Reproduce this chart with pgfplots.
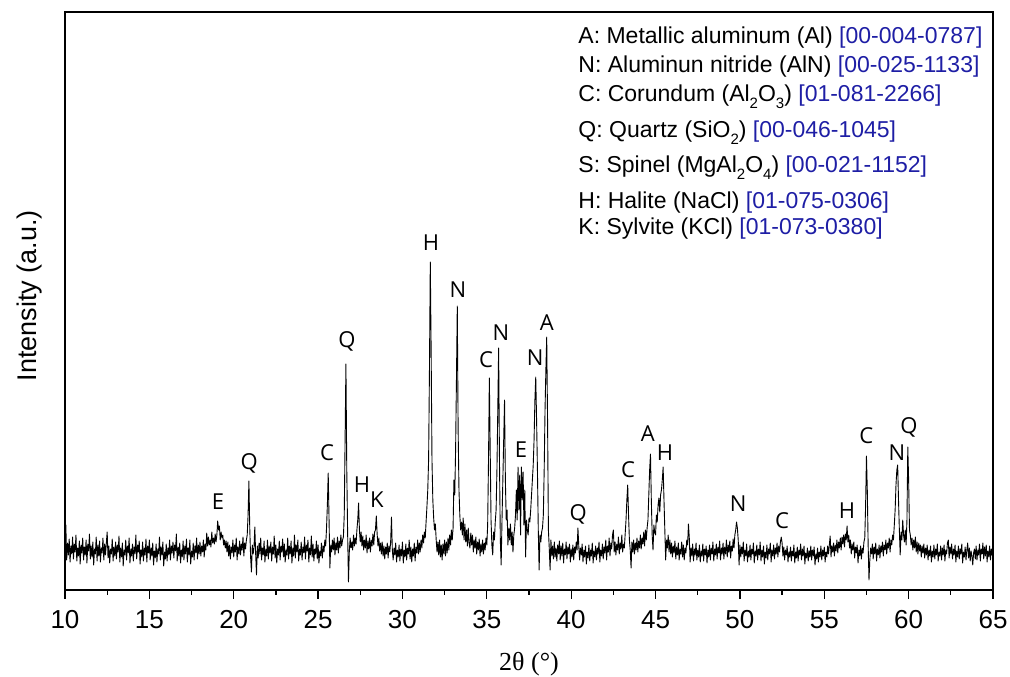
\documentclass[border=0pt]{standalone}
\usepackage{pgfplots}
\pgfplotsset{compat=1.18}
\usepackage{fontspec}
\setmainfont{Liberation Sans}
\newfontfamily\peakfont{Open Sans}
\newfontfamily\seriffont{Liberation Serif}
\definecolor{refblue}{RGB}{30,30,165}
\newcommand{\sub}[1]{\raisebox{-6.5pt}{\fontsize{15}{15}\selectfont #1}}
\begin{document}
\begin{tikzpicture}
\useasboundingbox (-65pt,-87pt) rectangle (945pt,590pt);
\begin{axis}[
  at={(0,0)}, anchor=south west,
  width=928pt, height=578pt, scale only axis,
  xmin=10, xmax=65, ymin=0, ymax=578,
  xtick={10,15,...,65}, ytick=\empty,
  minor x tick num=1,
  tick align=outside, xtick pos=left,
  major tick length=9pt, minor tick length=5pt,
  axis line style={line width=1.2pt},
  tick style={line width=1.2pt, black},
  /pgf/number format/assume math mode=true,
  tick label style={font=\fontsize{26}{26}\selectfont},
  xticklabel style={yshift=-8pt},
  xlabel={\seriffont 2θ (°)},
  xlabel style={at={(axis description cs:0.5,-0.128)}, anchor=center, font=\fontsize{26}{26}\selectfont},
  ylabel={Intensity (a.u.)},
  ylabel style={at={(axis description cs:-0.038,0.509)}, anchor=center, font=\fontsize{27}{27}\selectfont},
  clip=true,
]
\addplot[black, line width=0.9pt, line join=round, mark=none] table[row sep=\\] {
x y\\
10.0 40\\ 10.05 65\\ 10.1 30\\ 10.15 47\\ 10.2 35\\ 10.25 51\\ 10.3 28\\ 10.35 44\\ 10.4 36\\ 10.45 53\\ 10.5 31\\ 10.55 46\\ 10.6 38\\ 10.65 55\\ 10.7 29\\ 10.75 42\\ 10.8 34\\ 10.85 49\\ 10.9 26\\ 10.95 45\\
11.0 37\\ 11.05 52\\ 11.1 30\\ 11.15 43\\ 11.2 35\\ 11.25 50\\ 11.3 27\\ 11.35 46\\ 11.4 39\\ 11.45 56\\ 11.5 31\\ 11.55 44\\ 11.6 33\\ 11.65 48\\ 11.7 25\\ 11.75 41\\ 11.8 36\\ 11.85 53\\ 11.9 29\\ 11.95 45\\
12.0 34\\ 12.05 49\\ 12.1 28\\ 12.15 42\\ 12.2 37\\ 12.25 52\\ 12.3 30\\ 12.35 46\\ 12.4 35\\ 12.45 47\\ 12.5 58\\ 12.55 32\\ 12.6 44\\ 12.65 27\\ 12.7 41\\ 12.75 36\\ 12.8 51\\ 12.85 29\\ 12.9 43\\ 12.95 34\\
13.0 48\\ 13.05 31\\ 13.1 45\\ 13.15 38\\ 13.2 54\\ 13.25 28\\ 13.3 42\\ 13.35 33\\ 13.4 47\\ 13.45 24\\ 13.5 40\\ 13.55 35\\ 13.6 50\\ 13.65 30\\ 13.7 44\\ 13.75 37\\ 13.8 52\\ 13.85 27\\ 13.9 41\\ 13.95 34\\
14.0 46\\ 14.05 29\\ 14.1 43\\ 14.15 36\\ 14.2 55\\ 14.25 31\\ 14.3 45\\ 14.35 38\\ 14.4 49\\ 14.45 26\\ 14.5 40\\ 14.55 33\\ 14.6 48\\ 14.65 29\\ 14.7 42\\ 14.75 35\\ 14.8 51\\ 14.85 28\\ 14.9 44\\ 14.95 37\\
15.0 50\\ 15.05 30\\ 15.1 42\\ 15.15 34\\ 15.2 47\\ 15.25 25\\ 15.3 39\\ 15.35 32\\ 15.4 46\\ 15.45 28\\ 15.5 41\\ 15.55 36\\ 15.6 53\\ 15.65 30\\ 15.7 43\\ 15.75 35\\ 15.8 48\\ 15.85 24\\ 15.9 38\\ 15.95 31\\
16.0 46\\ 16.05 29\\ 16.1 42\\ 16.15 35\\ 16.2 50\\ 16.25 30\\ 16.3 44\\ 16.35 37\\ 16.4 48\\ 16.45 32\\ 16.5 45\\ 16.55 39\\ 16.6 56\\ 16.65 29\\ 16.7 43\\ 16.75 34\\ 16.8 47\\ 16.85 27\\ 16.9 40\\ 16.95 33\\
17.0 49\\ 17.05 30\\ 17.1 44\\ 17.15 36\\ 17.2 51\\ 17.25 28\\ 17.3 42\\ 17.35 35\\ 17.4 50\\ 17.45 26\\ 17.5 39\\ 17.55 33\\ 17.6 47\\ 17.65 30\\ 17.7 44\\ 17.75 37\\ 17.8 52\\ 17.85 31\\ 17.9 45\\ 17.95 36\\
18.0 48\\ 18.05 34\\ 18.1 44\\ 18.15 38\\ 18.2 50\\ 18.25 33\\ 18.3 46\\ 18.35 40\\ 18.4 57\\ 18.45 44\\ 18.5 53\\ 18.55 45\\ 18.6 50\\ 18.65 43\\ 18.7 58\\ 18.75 47\\ 18.8 52\\ 18.85 46\\ 18.9 56\\ 18.95 48\\
19.0 55\\ 19.05 69\\ 19.1 60\\ 19.15 64\\ 19.2 50\\ 19.25 58\\ 19.3 52\\ 19.35 55\\ 19.4 45\\ 19.45 50\\ 19.5 42\\ 19.55 49\\
19.6 38\\ 19.65 48\\ 19.7 34\\ 19.75 45\\ 19.8 31\\ 19.85 43\\ 19.9 37\\ 19.95 50\\
20.0 33\\ 20.05 45\\ 20.1 38\\ 20.15 52\\ 20.2 30\\ 20.25 43\\ 20.3 36\\ 20.35 49\\ 20.4 35\\ 20.45 46\\ 20.5 40\\ 20.55 53\\ 20.6 34\\ 20.65 47\\ 20.7 41\\ 20.75 50\\ 20.8 55\\ 20.85 75\\ 20.9 109\\ 20.95 62\\
21.0 33\\ 21.05 18\\ 21.1 45\\ 21.15 36\\ 21.2 42\\ 21.25 63\\ 21.3 36\\ 21.35 15\\ 21.4 44\\ 21.45 32\\ 21.5 47\\ 21.55 36\\ 21.6 52\\ 21.65 30\\ 21.7 42\\ 21.75 35\\ 21.8 49\\ 21.85 28\\ 21.9 41\\ 21.95 34\\
22.0 50\\ 22.05 31\\ 22.1 44\\ 22.15 37\\ 22.2 48\\ 22.25 29\\ 22.3 43\\ 22.35 36\\ 22.4 54\\ 22.45 32\\ 22.5 45\\ 22.55 27\\ 22.6 41\\ 22.65 35\\ 22.7 49\\ 22.75 30\\ 22.8 44\\ 22.85 38\\ 22.9 51\\ 22.95 33\\
23.0 46\\ 23.05 28\\ 23.1 40\\ 23.15 35\\ 23.2 52\\ 23.25 31\\ 23.3 44\\ 23.35 36\\ 23.4 49\\ 23.45 27\\ 23.5 42\\ 23.55 34\\ 23.6 55\\ 23.65 32\\ 23.7 45\\ 23.75 38\\ 23.8 50\\ 23.85 29\\ 23.9 41\\ 23.95 35\\
24.0 48\\ 24.05 30\\ 24.1 43\\ 24.15 37\\ 24.2 53\\ 24.25 31\\ 24.3 45\\ 24.35 39\\ 24.4 50\\ 24.45 28\\ 24.5 42\\ 24.55 35\\ 24.6 54\\ 24.65 33\\ 24.7 46\\ 24.75 29\\ 24.8 41\\ 24.85 36\\ 24.9 49\\ 24.95 31\\
25.0 45\\ 25.05 27\\ 25.1 39\\ 25.15 34\\ 25.2 47\\ 25.25 32\\ 25.3 44\\ 25.35 38\\ 25.4 50\\ 25.45 44\\ 25.5 62\\ 25.55 85\\ 25.6 117\\ 25.65 70\\ 25.7 22\\ 25.75 45\\ 25.8 38\\ 25.85 50\\ 25.9 40\\ 25.95 52\\
26.0 35\\ 26.05 47\\ 26.1 40\\ 26.15 53\\ 26.2 37\\ 26.25 49\\ 26.3 42\\ 26.35 55\\ 26.4 44\\ 26.45 50\\ 26.5 53\\ 26.55 75\\ 26.6 150\\ 26.65 226\\ 26.7 120\\ 26.75 58\\ 26.8 8\\ 26.85 38\\ 26.9 52\\ 26.95 42\\
27.0 48\\ 27.05 40\\ 27.1 55\\ 27.15 44\\ 27.2 52\\ 27.25 46\\ 27.3 60\\ 27.35 70\\ 27.4 87\\ 27.45 60\\ 27.5 48\\ 27.55 58\\ 27.6 44\\ 27.65 54\\ 27.7 40\\ 27.75 50\\ 27.8 42\\ 27.85 55\\ 27.9 37\\ 27.95 49\\
28.0 41\\ 28.05 52\\ 28.1 38\\ 28.15 50\\ 28.2 44\\ 28.25 56\\ 28.3 45\\ 28.35 58\\ 28.4 60\\ 28.45 74\\ 28.5 56\\ 28.55 44\\ 28.6 52\\ 28.65 39\\ 28.7 47\\ 28.75 36\\ 28.8 48\\ 28.85 34\\ 28.9 44\\ 28.95 31\\
29.0 43\\ 29.05 36\\ 29.1 47\\ 29.15 32\\ 29.2 44\\ 29.25 38\\ 29.3 48\\ 29.35 73\\ 29.4 40\\ 29.45 30\\ 29.5 42\\ 29.55 35\\ 29.6 47\\ 29.65 28\\ 29.7 40\\ 29.75 33\\ 29.8 45\\ 29.85 29\\ 29.9 41\\ 29.95 34\\
30.0 48\\ 30.05 27\\ 30.1 40\\ 30.15 33\\ 30.2 46\\ 30.25 30\\ 30.3 42\\ 30.35 36\\ 30.4 50\\ 30.45 31\\ 30.5 43\\ 30.55 28\\ 30.6 41\\ 30.65 34\\ 30.7 47\\ 30.75 29\\ 30.8 43\\ 30.85 37\\ 30.9 50\\ 30.95 36\\
31.0 47\\ 31.05 38\\ 31.1 50\\ 31.15 42\\ 31.2 55\\ 31.25 47\\ 31.3 58\\ 31.35 52\\ 31.4 68\\ 31.45 83\\ 31.5 100\\ 31.55 130\\ 31.6 220\\ 31.65 328\\ 31.7 240\\ 31.75 130\\ 31.8 90\\ 31.85 72\\ 31.9 60\\ 31.95 66\\
32.0 50\\ 32.05 38\\ 32.1 48\\ 32.15 35\\ 32.2 50\\ 32.25 33\\ 32.3 45\\ 32.35 30\\ 32.4 46\\ 32.45 36\\ 32.5 50\\ 32.55 34\\ 32.6 48\\ 32.65 37\\ 32.7 52\\ 32.75 40\\ 32.8 55\\ 32.85 45\\ 32.9 60\\ 32.95 50\\
33.0 62\\ 33.05 110\\ 33.1 95\\ 33.15 140\\ 33.2 210\\ 33.25 284\\ 33.3 160\\ 33.35 100\\ 33.4 75\\ 33.45 60\\ 33.5 68\\ 33.55 55\\ 33.6 72\\ 33.65 50\\ 33.7 66\\ 33.75 48\\ 33.8 60\\ 33.85 44\\ 33.9 62\\ 33.95 47\\
34.0 42\\ 34.05 57\\ 34.1 45\\ 34.15 55\\ 34.2 38\\ 34.25 50\\ 34.3 42\\ 34.35 53\\ 34.4 36\\ 34.45 48\\ 34.5 40\\ 34.55 51\\ 34.6 34\\ 34.65 46\\ 34.7 38\\ 34.75 50\\ 34.8 36\\ 34.85 47\\ 34.9 40\\ 34.95 52\\
35.0 45\\ 35.05 65\\ 35.1 130\\ 35.15 212\\ 35.2 140\\ 35.25 70\\ 35.3 45\\ 35.35 35\\ 35.4 58\\ 35.45 50\\ 35.5 68\\ 35.55 80\\ 35.6 120\\ 35.65 180\\ 35.7 242\\ 35.75 130\\ 35.8 50\\ 35.85 25\\ 35.9 70\\ 35.95 110\\
36.0 150\\ 36.05 190\\ 36.1 110\\ 36.15 70\\ 36.2 80\\ 36.25 45\\ 36.3 62\\ 36.35 50\\ 36.4 66\\ 36.45 45\\ 36.5 58\\ 36.55 38\\ 36.6 55\\ 36.65 62\\ 36.7 75\\ 36.75 100\\ 36.8 70\\ 36.85 123\\ 36.9 80\\ 36.95 115\\
37.0 55\\ 37.05 123\\ 37.1 90\\ 37.15 118\\ 37.2 65\\ 37.25 100\\ 37.3 33\\ 37.35 70\\ 37.4 60\\ 37.45 55\\ 37.5 72\\ 37.55 68\\ 37.6 80\\ 37.65 95\\ 37.7 110\\ 37.75 125\\ 37.8 150\\ 37.85 190\\ 37.9 213\\ 37.95 170\\
38.0 120\\ 38.05 60\\ 38.1 20\\ 38.15 55\\ 38.2 48\\ 38.25 58\\ 38.3 62\\ 38.35 75\\ 38.4 120\\ 38.45 180\\ 38.5 220\\ 38.55 253\\ 38.6 170\\ 38.65 60\\ 38.7 42\\ 38.75 20\\ 38.8 50\\ 38.85 34\\ 38.9 44\\ 38.95 31\\
39.0 48\\ 39.05 33\\ 39.1 42\\ 39.15 29\\ 39.2 45\\ 39.25 36\\ 39.3 49\\ 39.35 30\\ 39.4 44\\ 39.45 34\\ 39.5 47\\ 39.55 27\\ 39.6 41\\ 39.65 35\\ 39.7 48\\ 39.75 31\\ 39.8 43\\ 39.85 36\\ 39.9 46\\ 39.95 28\\
40.0 41\\ 40.05 33\\ 40.1 45\\ 40.15 30\\ 40.2 43\\ 40.25 37\\ 40.3 48\\ 40.35 40\\ 40.4 62\\ 40.45 44\\ 40.5 30\\ 40.55 42\\ 40.6 35\\ 40.65 46\\ 40.7 28\\ 40.75 40\\ 40.8 33\\ 40.85 44\\ 40.9 26\\ 40.95 38\\
41.0 32\\ 41.05 45\\ 41.1 29\\ 41.15 40\\ 41.2 34\\ 41.25 47\\ 41.3 27\\ 41.35 39\\ 41.4 33\\ 41.45 44\\ 41.5 30\\ 41.55 42\\ 41.6 36\\ 41.65 48\\ 41.7 28\\ 41.75 40\\ 41.8 34\\ 41.85 46\\ 41.9 31\\ 41.95 43\\
42.0 37\\ 42.05 50\\ 42.1 30\\ 42.15 44\\ 42.2 38\\ 42.25 52\\ 42.3 34\\ 42.35 47\\ 42.4 41\\ 42.45 55\\ 42.5 60\\ 42.55 38\\ 42.6 48\\ 42.65 35\\ 42.7 46\\ 42.75 40\\ 42.8 53\\ 42.85 36\\ 42.9 47\\ 42.95 41\\
43.0 55\\ 43.05 38\\ 43.1 46\\ 43.15 42\\ 43.2 56\\ 43.25 70\\ 43.3 90\\ 43.35 105\\ 43.4 75\\ 43.45 50\\ 43.5 40\\ 43.55 22\\ 43.6 48\\ 43.65 38\\ 43.7 50\\ 43.75 36\\ 43.8 47\\ 43.85 40\\ 43.9 52\\ 43.95 38\\
44.0 49\\ 44.05 42\\ 44.1 55\\ 44.15 41\\ 44.2 52\\ 44.25 46\\ 44.3 58\\ 44.35 44\\ 44.4 60\\ 44.45 50\\ 44.5 62\\ 44.55 70\\ 44.6 95\\ 44.65 120\\ 44.7 136\\ 44.75 90\\ 44.8 55\\ 44.85 40\\ 44.9 65\\ 44.95 58\\
45.0 55\\ 45.05 75\\ 45.1 68\\ 45.15 85\\ 45.2 92\\ 45.25 78\\ 45.3 95\\ 45.35 100\\ 45.4 110\\ 45.45 123\\ 45.5 90\\ 45.55 60\\ 45.6 30\\ 45.65 50\\ 45.7 42\\ 45.75 55\\ 45.8 38\\ 45.85 50\\ 45.9 36\\ 45.95 47\\
46.0 33\\ 46.05 44\\ 46.1 37\\ 46.15 49\\ 46.2 31\\ 46.25 43\\ 46.3 35\\ 46.35 47\\ 46.4 30\\ 46.45 41\\ 46.5 36\\ 46.55 48\\ 46.6 33\\ 46.65 45\\ 46.7 30\\ 46.75 42\\ 46.8 37\\ 46.85 50\\ 46.9 45\\ 46.95 66\\
47.0 52\\ 47.05 28\\ 47.1 42\\ 47.15 34\\ 47.2 46\\ 47.25 29\\ 47.3 41\\ 47.35 35\\ 47.4 47\\ 47.45 30\\ 47.5 40\\ 47.55 33\\ 47.6 45\\ 47.65 28\\ 47.7 39\\ 47.75 34\\ 47.8 46\\ 47.85 29\\ 47.9 41\\ 47.95 35\\
48.0 44\\ 48.05 27\\ 48.1 40\\ 48.15 33\\ 48.2 45\\ 48.25 30\\ 48.3 42\\ 48.35 36\\ 48.4 48\\ 48.45 29\\ 48.5 41\\ 48.55 35\\ 48.6 46\\ 48.65 31\\ 48.7 43\\ 48.75 37\\ 48.8 49\\ 48.85 30\\ 48.9 42\\ 48.95 36\\
49.0 47\\ 49.05 31\\ 49.1 43\\ 49.15 36\\ 49.2 50\\ 49.25 33\\ 49.3 45\\ 49.35 38\\ 49.4 49\\ 49.45 32\\ 49.5 44\\ 49.55 39\\ 49.6 51\\ 49.65 42\\ 49.7 55\\ 49.75 60\\ 49.8 68\\ 49.85 62\\ 49.9 50\\ 49.95 25\\
50.0 45\\ 50.05 33\\ 50.1 43\\ 50.15 36\\ 50.2 48\\ 50.25 29\\ 50.3 40\\ 50.35 34\\ 50.4 46\\ 50.45 28\\ 50.5 39\\ 50.55 33\\ 50.6 45\\ 50.65 30\\ 50.7 41\\ 50.75 36\\ 50.8 47\\ 50.85 27\\ 50.9 39\\ 50.95 34\\
51.0 45\\ 51.05 30\\ 51.1 41\\ 51.15 35\\ 51.2 48\\ 51.25 29\\ 51.3 40\\ 51.35 33\\ 51.4 44\\ 51.45 26\\ 51.5 38\\ 51.55 32\\ 51.6 45\\ 51.65 30\\ 51.7 41\\ 51.75 36\\ 51.8 47\\ 51.85 28\\ 51.9 40\\ 51.95 34\\
52.0 45\\ 52.05 31\\ 52.1 42\\ 52.15 36\\ 52.2 47\\ 52.25 33\\ 52.3 44\\ 52.35 38\\ 52.4 48\\ 52.45 53\\ 52.5 47\\ 52.55 34\\ 52.6 43\\ 52.65 30\\ 52.7 40\\ 52.75 35\\ 52.8 44\\ 52.85 28\\ 52.9 38\\ 52.95 33\\
53.0 43\\ 53.05 29\\ 53.1 39\\ 53.15 34\\ 53.2 45\\ 53.25 27\\ 53.3 38\\ 53.35 32\\ 53.4 43\\ 53.45 29\\ 53.5 40\\ 53.55 35\\ 53.6 46\\ 53.65 30\\ 53.7 41\\ 53.75 34\\ 53.8 44\\ 53.85 26\\ 53.9 37\\ 53.95 32\\
54.0 42\\ 54.05 29\\ 54.1 39\\ 54.15 33\\ 54.2 44\\ 54.25 30\\ 54.3 40\\ 54.35 34\\ 54.4 43\\ 54.45 25\\ 54.5 36\\ 54.55 31\\ 54.6 42\\ 54.65 28\\ 54.7 38\\ 54.75 33\\ 54.8 44\\ 54.85 30\\ 54.9 40\\ 54.95 34\\
55.0 43\\ 55.05 28\\ 55.1 38\\ 55.15 33\\ 55.2 44\\ 55.25 36\\ 55.3 45\\ 55.35 54\\ 55.4 33\\ 55.45 44\\ 55.5 38\\ 55.55 47\\ 55.6 34\\ 55.65 45\\ 55.7 39\\ 55.75 50\\ 55.8 37\\ 55.85 48\\ 55.9 42\\ 55.95 52\\
56.0 40\\ 56.05 53\\ 56.1 46\\ 56.15 55\\ 56.2 43\\ 56.25 56\\ 56.3 50\\ 56.35 64\\ 56.4 48\\ 56.45 55\\ 56.5 42\\ 56.55 50\\ 56.6 36\\ 56.65 46\\ 56.7 40\\ 56.75 48\\ 56.8 32\\ 56.85 43\\ 56.9 37\\ 56.95 45\\
57.0 27\\ 57.05 40\\ 57.1 34\\ 57.15 44\\ 57.2 31\\ 57.25 42\\ 57.3 37\\ 57.35 48\\ 57.4 52\\ 57.45 85\\ 57.5 134\\ 57.55 100\\ 57.6 45\\ 57.65 10\\ 57.7 30\\ 57.75 42\\ 57.8 36\\ 57.85 46\\ 57.9 31\\ 57.95 43\\
58.0 36\\ 58.05 47\\ 58.1 29\\ 58.15 41\\ 58.2 35\\ 58.25 45\\ 58.3 32\\ 58.35 44\\ 58.4 38\\ 58.45 48\\ 58.5 34\\ 58.55 45\\ 58.6 40\\ 58.65 50\\ 58.7 36\\ 58.75 47\\ 58.8 42\\ 58.85 52\\ 58.9 38\\ 58.95 50\\
59.0 45\\ 59.05 55\\ 59.1 50\\ 59.15 65\\ 59.2 80\\ 59.25 105\\ 59.3 120\\ 59.35 125\\ 59.4 90\\ 59.45 60\\ 59.5 35\\ 59.55 58\\ 59.6 50\\ 59.65 70\\ 59.7 55\\ 59.75 48\\ 59.8 60\\ 59.85 45\\ 59.9 70\\ 59.95 143\\
60.0 110\\ 60.05 60\\ 60.1 55\\ 60.15 45\\ 60.2 52\\ 60.25 40\\ 60.3 50\\ 60.35 42\\ 60.4 53\\ 60.45 38\\ 60.5 48\\ 60.55 36\\ 60.6 47\\ 60.65 39\\ 60.7 45\\ 60.75 33\\ 60.8 44\\ 60.85 37\\ 60.9 46\\ 60.95 32\\
61.0 42\\ 61.05 35\\ 61.1 45\\ 61.15 30\\ 61.2 40\\ 61.25 34\\ 61.3 44\\ 61.35 28\\ 61.4 39\\ 61.45 33\\ 61.5 45\\ 61.55 31\\ 61.6 41\\ 61.65 35\\ 61.7 46\\ 61.75 29\\ 61.8 38\\ 61.85 34\\ 61.9 44\\ 61.95 30\\
62.0 42\\ 62.05 35\\ 62.1 45\\ 62.15 29\\ 62.2 40\\ 62.25 36\\ 62.3 47\\ 62.35 50\\ 62.4 32\\ 62.45 43\\ 62.5 36\\ 62.55 46\\ 62.6 31\\ 62.65 41\\ 62.7 35\\ 62.75 45\\ 62.8 28\\ 62.85 39\\ 62.9 33\\ 62.95 44\\
63.0 31\\ 63.05 41\\ 63.1 36\\ 63.15 46\\ 63.2 27\\ 63.25 38\\ 63.3 33\\ 63.35 43\\ 63.4 30\\ 63.45 40\\ 63.5 47\\ 63.55 32\\ 63.6 42\\ 63.65 29\\ 63.7 39\\ 63.75 34\\ 63.8 25\\ 63.85 37\\ 63.9 41\\ 63.95 31\\
64.0 44\\ 64.05 30\\ 64.1 40\\ 64.15 35\\ 64.2 46\\ 64.25 29\\ 64.3 41\\ 64.35 36\\ 64.4 47\\ 64.45 31\\ 64.5 43\\ 64.55 34\\ 64.6 45\\ 64.65 28\\ 64.7 39\\ 64.75 33\\ 64.8 44\\ 64.85 30\\ 64.9 41\\ 64.95 35\\
65.0 40\\
};
% peak labels
\begin{scope}[every node/.style={font=\peakfont\fontsize{22}{22}\selectfont, inner sep=0pt}]
\node at (axis cs:19.07,88) {E};
\node at (axis cs:20.91,127) {Q};
\node at (axis cs:25.53,137) {C};
\node at (axis cs:26.71,249) {Q};
\node at (axis cs:27.60,105) {H};
\node at (axis cs:28.49,90) {K};
\node at (axis cs:31.69,347) {H};
\node at (axis cs:33.29,300) {N};
\node at (axis cs:34.95,230) {C};
\node at (axis cs:35.84,257) {N};
\node at (axis cs:37.03,140) {E};
\node at (axis cs:37.86,232) {N};
\node at (axis cs:38.55,267) {A};
\node at (axis cs:40.41,76) {Q};
\node at (axis cs:43.37,120) {C};
\node at (axis cs:44.55,156) {A};
\node at (axis cs:45.56,137) {H};
\node at (axis cs:49.89,86) {N};
\node at (axis cs:52.50,69) {C};
\node at (axis cs:56.35,79) {H};
\node at (axis cs:57.49,154) {C};
\node at (axis cs:59.31,137) {N};
\node at (axis cs:60.02,163) {Q};
\end{scope}
% phase list
\begin{scope}[every node/.style={font=\fontsize{23}{23}\selectfont, inner sep=0pt, anchor=base west}]
\node at (axis cs:40.42,546) {A: Metallic aluminum (Al) \textcolor{refblue}{[00-004-0787]}};
\node at (axis cs:40.42,517) {N: Aluminun nitride (AlN) \textcolor{refblue}{[00-025-1133]}};
\node at (axis cs:40.42,488) {C: Corundum (Al\sub{2}O\sub{3}) \textcolor{refblue}{[01-081-2266]}};
\node at (axis cs:40.42,452) {Q: Quartz (SiO\sub{2}) \textcolor{refblue}{[00-046-1045]}};
\node at (axis cs:40.42,417) {S: Spinel (MgAl\sub{2}O\sub{4}) \textcolor{refblue}{[00-021-1152]}};
\node at (axis cs:40.42,381) {H: Halite (NaCl) \textcolor{refblue}{[01-075-0306]}};
\node at (axis cs:40.42,355) {K: Sylvite (KCl) \textcolor{refblue}{[01-073-0380]}};
\end{scope}
\end{axis}
\end{tikzpicture}
\end{document}
